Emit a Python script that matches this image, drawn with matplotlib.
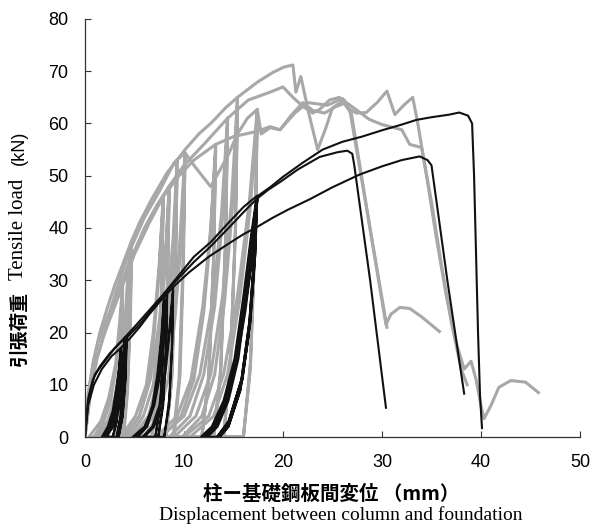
import matplotlib
matplotlib.use("Agg")
import matplotlib.pyplot as plt

# ---- data (displacement mm, load kN) ----
gray1 = [(0,0),(0.4,9),(0.9,15),(1.5,20),(2.3,25),(3.0,29),(4.0,34),(4.7,37.5),
         (4.6,24),(4.3,9),(3.9,0),(1.5,0),
         (2.6,3),(3.4,8),(4.0,17),(4.4,26),(4.7,36.5),
         (4.55,22),(4.2,8),(3.8,0),(1.0,0),
         (2.3,3),(3.2,8.5),(3.9,17),(4.35,26),(4.7,37.5),
         (5.5,41),(6.7,45.4),(8.3,50.6),(9.3,53),
         (9.15,32),(8.8,12),(8.2,0),(5.5,0),
         (6.8,4),(7.8,11),(8.5,23),(9.0,37),(9.3,51.5),
         (9.1,30),(8.7,10),(8.1,0),(4.8,0),
         (6.4,4),(7.5,12),(8.3,24),(8.9,38),(9.3,53),
         (10.1,55),(11.5,58),(12.8,60.2),(14.2,63),(15.4,65),
         (15.2,40),(14.7,15),(14.0,0),(9.8,0),
         (11.8,4),(13.1,12),(14.1,26),(14.9,44),(15.4,63.5),
         (15.2,40),(14.7,14),(14.0,0),(9.0,0),
         (11.2,4),(12.7,12),(13.9,27),(14.8,45),(15.4,65),
         (17.4,67.9),(19.0,69.8),(20.1,70.8),(21.0,71.2),(21.3,66),(21.8,69),(22.6,62),
         (23.5,55),(24.3,59),(25.0,63),(26.2,64.5),(26.8,62),(28.6,42),(30.4,21.5),
         (30.9,23.5),(31.8,24.8),(32.8,24.6),(34.0,23),(35.8,20.2)]
gray2 = [(0,0),(0.5,8),(1.2,15),(2.0,20),(3.0,26),(4.4,33),
         (4.3,20),(4.0,7),(3.6,0),(1.8,0),
         (2.7,3),(3.4,8),(3.9,15),(4.2,23),(4.4,32),
         (4.3,19),(4.0,6),(3.6,0),(1.2,0),
         (2.3,3),(3.1,8),(3.7,15),(4.1,24),(4.4,33),
         (6.0,40),(7.3,44.5),(8.5,48),
         (8.35,30),(8.0,11),(7.4,0),(4.5,0),
         (5.9,4),(6.9,10),(7.6,21),(8.1,33),(8.5,47),
         (8.3,28),(7.9,9),(7.3,0),(3.9,0),
         (5.5,4),(6.6,11),(7.5,22),(8.1,34),(8.5,48),
         (10.0,52),(12.0,56),(14.4,61),
         (14.2,38),(13.7,13),(13.0,0),(8.5,0),
         (10.6,4),(12.0,12),(13.1,25),(13.9,42),(14.4,60),
         (14.2,37),(13.7,12),(13.0,0),(7.6,0),
         (10.0,4),(11.6,12),(12.9,26),(13.8,43),(14.4,61),
         (16.5,64.5),(18.7,66),(20.0,67),(21.0,65),(22.0,63.3),(23.0,62),(23.7,62.7),
         (24.7,64.5),(25.7,65),(26.5,63),(27.4,62),(28.4,62.1),(29.5,64),(30.5,66.2),
         (31.3,61.7),(32.2,63.5),(33.1,65),(33.6,60.2),(34.5,50),(35.5,38),(36.5,27),
         (37.5,18),(38.3,13),(39.0,14.5),(39.5,11),(40.0,6),(40.3,3.5),(41.0,6),
         (41.8,9.5),(43.0,10.8),(44.5,10.5),(45.8,8.5)]
gray3 = [(0,0),(0.6,9),(1.2,15),(1.8,19),(2.8,24),(3.8,29),
         (3.7,17),(3.4,5),(3.0,0),(0.9,0),
         (1.9,3),(2.6,7),(3.2,14),(3.55,21),(3.8,28),
         (3.7,16),(3.4,5),(3.0,0),(0.4,0),
         (1.6,3),(2.4,7.5),(3.1,14),(3.5,22),(3.8,29),
         (5.0,35),(6.5,41),(7.9,46),
         (7.75,28),(7.4,10),(6.8,0),(4.2,0),
         (5.5,4),(6.4,10),(7.0,20),(7.5,32),(7.9,45),
         (7.7,27),(7.3,9),(6.7,0),(3.6,0),
         (5.1,4),(6.2,10),(6.9,20),(7.5,33),(7.9,46),
         (9.5,50),(11.0,53),(13.2,56),
         (13.0,35),(12.5,12),(11.8,0),(7.8,0),
         (9.7,4),(11.0,11),(12.0,24),(12.7,39),(13.2,55),
         (13.0,34),(12.5,11),(11.8,0),(7.2,0),
         (9.3,4),(10.7,11),(11.9,25),(12.7,40),(13.2,56),
         (15.0,57.5),(17.4,58.5),(18.7,59.4),(19.7,58.8),(20.8,61.5),(22.0,64),(23.0,62.5),
         (24.2,62),(25.3,63.2),(26.4,64),(27.5,62.5),(28.7,60.8),(30.0,59.8),(32.0,58.8),
         (32.8,56),(34.0,55.4),(35.0,45),(36.0,33),(37.0,22),(38.0,13),(38.6,10)]
gray4 = [(0,0),(0.3,8),(0.8,14),(1.3,18),(2.5,24),(3.5,30),(4.6,36),
         (4.5,22),(4.2,8),(3.8,0),(2.0,0),
         (3.0,3),(3.7,8),(4.1,16),(4.4,25),(4.6,35),
         (4.5,21),(4.2,7),(3.8,0),(1.5,0),
         (2.6,3),(3.4,8),(4.0,16),(4.35,25),(4.6,36),
         (6.0,42),(7.5,47),(9.0,52.5),(10.1,54.4),
         (9.95,34),(9.6,12),(9.0,0),(5.9,0),
         (7.4,4),(8.4,11),(9.1,23),(9.7,37),(10.1,53.5),
         (9.9,33),(9.5,11),(8.9,0),(5.2,0),
         (6.9,4),(8.0,11),(8.9,23),(9.6,38),(10.1,54.4),
         (11.0,52),(12.7,47.9),(13.6,51),(14.4,53.7),(15.4,58),(16.4,61),(17.4,62.7),
         (17.2,40),(16.7,14),(16.0,0),(10.6,0),
         (13.0,4),(14.4,12),(15.6,26),(16.7,44),(17.4,61.5),
         (17.2,39),(16.7,13),(16.0,0),(10.0,0),
         (12.5,4),(14.0,12),(15.4,27),(16.6,45),(17.4,62.7),
         (17.8,58),(18.7,59.2),(19.7,58.8),(21.2,62),(22.5,64),(24.5,63.5),(26.0,64.8),
         (26.9,62),(28.7,41),(30.5,21)]

blackA = [(0,0),(0.3,7),(0.8,11),(1.5,13.5),(2.5,16),(3.5,18),(4.2,19),
          (4.1,12),(3.8,4),(3.4,0),(2.0,0),
          (2.9,2),(3.4,5),(3.8,10),(4.05,14),(4.2,18.5),
          (4.1,11),(3.8,4),(3.4,0),(1.8,0),
          (2.6,2),(3.2,6),(3.7,11),(4.0,15),(4.2,19),
          (5.5,21.5),(7.0,25),(8.3,28),
          (8.2,18),(7.9,7),(7.4,0),(5.0,0),
          (6.2,2),(7.0,6),(7.6,12),(8.0,19),(8.3,27.5),
          (8.2,17),(7.9,6),(7.4,0),(4.8,0),
          (6.0,2),(6.9,6),(7.5,12),(8.0,20),(8.3,28),
          (9.5,30.5),(11.0,33.5),(12.7,36.5),(14.5,40),(16.0,43),(17.3,45.5),
          (17.1,35),(16.6,22),(15.8,11),(14.5,3),(13.4,0),(11.9,0),
          (13.0,2),(14.2,7),(15.2,15),(16.1,27),(16.8,38),(17.3,45),
          (17.1,35),(16.6,22),(15.8,11),(14.5,3),(13.3,0),(11.7,0),
          (12.8,2),(14.0,7),(15.1,15),(16.0,27),(16.8,39),(17.3,45.5),
          (18.5,47.3),(19.7,48.8),(21.5,51.2),(23.7,53.6),(25.5,54.5),(26.5,54.8),(27.0,54.2),
          (27.2,52),(28.8,30),(30.4,5.6)]
blackB = [(0,0),(0.4,8),(1.0,12),(2.0,14.5),(3.0,17),(4.0,19),
          (3.9,12),(3.6,4),(3.2,0),(2.2,0),
          (2.8,2),(3.3,6),(3.7,11),(3.9,15),(4.0,18.5),
          (3.9,11),(3.6,4),(3.2,0),(2.0,0),
          (2.6,2),(3.1,6),(3.5,11),(3.8,15),(4.0,19),
          (5.2,21.5),(6.6,24.5),(8.0,27.5),
          (7.9,17),(7.6,6),(7.1,0),(5.3,0),
          (6.3,2),(6.9,6),(7.4,12),(7.75,19),(8.0,27),
          (7.9,16),(7.6,6),(7.1,0),(5.1,0),
          (6.1,2),(6.8,6),(7.3,12),(7.7,19),(8.0,27.5),
          (9.5,31),(11.0,34.5),(12.7,37.3),(14.5,41),(16.0,44),(17.4,46.2),
          (17.2,35),(16.7,22),(15.9,11),(14.6,3),(13.6,0),(12.4,0),
          (13.4,2),(14.5,7),(15.5,15),(16.3,27),(16.9,38),(17.4,45.5),
          (17.2,35),(16.7,22),(15.9,11),(14.6,3),(13.5,0),(12.2,0),
          (13.2,2),(14.3,7),(15.3,15),(16.2,27),(16.9,39),(17.5,46.2),
          (18.7,47.8),(20.0,49.8),(22.0,52.5),(24.0,55),(26.0,56.5),(28.0,57.5),(30.0,58.7),
          (32.0,59.8),(33.5,60.7),(35.0,61.2),(36.8,61.7),(37.8,62.1),(38.7,61.5),(39.1,60),
          (39.3,50),(39.5,35),(39.7,20),(39.9,8),(40.1,1.7)]
blackC = [(0,0),(0.3,6),(0.9,10),(1.7,13),(2.7,15.5),(3.6,17),
          (3.5,10),(3.2,3),(2.8,0),(1.9,0),
          (2.5,2),(2.9,5),(3.2,9),(3.45,13),(3.6,16.5),
          (3.5,10),(3.2,3),(2.8,0),(1.7,0),
          (2.3,2),(2.8,5),(3.2,10),(3.45,13.5),(3.6,17),
          (4.6,19),(5.5,21),(6.5,23.5),(7.6,26),(8.9,28.7),
          (8.8,18),(8.5,7),(8.0,0),(6.0,0),
          (7.0,2),(7.6,6),(8.1,12),(8.5,19),(8.9,28),
          (8.8,17),(8.5,6),(8.0,0),(5.8,0),
          (6.8,2),(7.5,6),(8.0,12),(8.5,20),(8.9,28.7),
          (10.5,31.5),(12.5,34.5),(14.5,37),(16.0,38.8),(17.2,40),
          (17.0,30),(16.5,19),(15.7,9),(14.5,2),(13.6,0),(12.0,0),
          (13.1,2),(14.3,7),(15.3,14),(16.2,24),(16.8,33),(17.2,39.5),
          (17.0,30),(16.5,19),(15.7,9),(14.5,2),(13.6,0),(11.8,0),
          (12.9,2),(14.1,7),(15.2,14),(16.1,24),(16.8,33),(17.2,40),
          (19.0,42),(20.5,43.5),(22.7,45.5),(25.0,47.8),(27.7,50.2),(30.0,51.8),(32.0,53),
          (33.8,53.7),(34.6,53),(35.0,52),(36.6,30),(38.3,8.3)]

gray_curves = [gray1, gray2, gray3, gray4]
black_curves = [blackA, blackB, blackC]

x_ticks = [0, 10, 20, 30, 40, 50]
y_ticks = [0, 10, 20, 30, 40, 50, 60, 70, 80]

# ---- figure ----
fig = plt.figure(figsize=(5.96, 5.29), dpi=100)
ax = fig.add_axes([85/596, 1 - 437/529, 495/596, 418/529])

for c in gray_curves:
    xs, ys = zip(*c)
    ax.plot(xs, ys, color="#a8a8a8", lw=2.2, solid_joinstyle="round", zorder=2)
for c in black_curves:
    xs, ys = zip(*c)
    ax.plot(xs, ys, color="#111111", lw=1.5, solid_joinstyle="round", zorder=3)

ax.set_xlim(0, 50)
ax.set_ylim(0, 80)
ax.set_xticks(x_ticks)
ax.set_yticks(y_ticks)
ax.spines["top"].set_visible(False)
ax.spines["right"].set_visible(False)
for s in ("left", "bottom"):
    ax.spines[s].set_color("#333333")
    ax.spines[s].set_linewidth(0.9)
    ax.spines[s].set_zorder(4)
ax.tick_params(direction="in", length=4, width=0.8, colors="#333333",
               labelcolor="black", labelsize=13, pad=12)
for lab in ax.get_xticklabels() + ax.get_yticklabels():
    lab.set_family("Liberation Sans")

# axis titles
fig.text(331/596, 1 - 494/529, "柱ー基礎鋼板間変位 （mm）", ha="center", va="center",
         fontsize=14, family=["Noto Sans CJK JP", "DejaVu Sans"], fontweight="bold")
fig.text(341/596, 1 - 515/529, "Displacement between column and foundation",
         ha="center", va="center", fontsize=14, family="Liberation Serif")
fig.text(19/596, 1 - 328/529, "引張荷重", rotation=90, ha="center", va="center",
         fontsize=13.5, family=["Noto Sans CJK JP", "DejaVu Sans"], fontweight="bold")
fig.text(19/596, 1 - 229/529, "Tensile load", rotation=90, ha="center", va="center",
         fontsize=15, family="Liberation Serif")
fig.text(19/596, 1 - 148/529, "(kN)", rotation=90, ha="center", va="center",
         fontsize=13, family="Liberation Sans")

fig.savefig("out.png", dpi=100)
